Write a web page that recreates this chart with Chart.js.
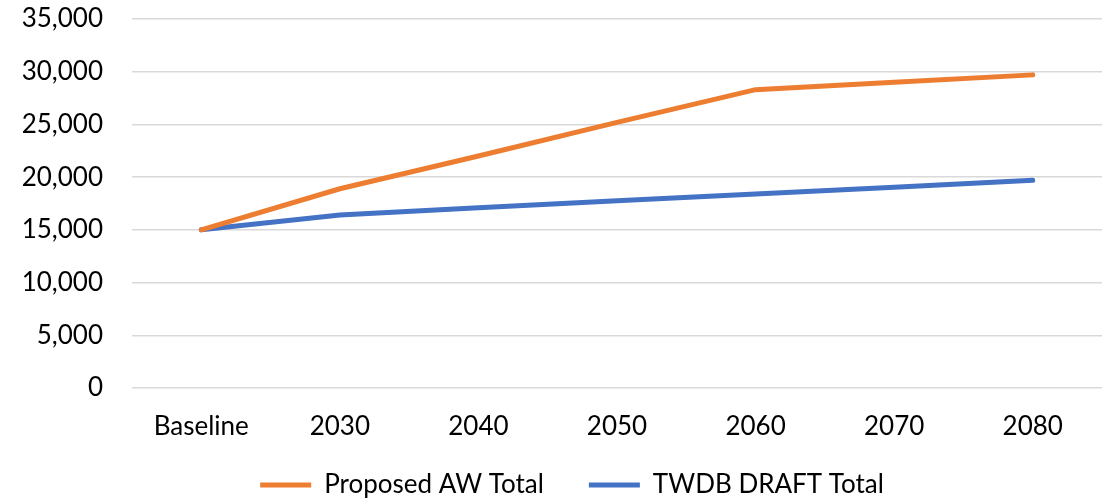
<!DOCTYPE html>
<html>
<head>
<meta charset="utf-8">
<script src="https://cdn.jsdelivr.net/npm/chart.js@4"></script>
<style>
  html, body { margin: 0; padding: 0; background: #fff; }
  #wrap { width: 1102px; height: 500px; }
</style>
</head>
<body>
<div id="wrap"><canvas id="chart"></canvas></div>
<script>
// data
const categories = ["Baseline", "2030", "2040", "2050", "2060", "2070", "2080"];
const proposedAW = [15000, 18900, 22000, 25200, 28300, 29000, 29700];
const twdbDraft = [15000, 16400, 17100, 17750, 18400, 19050, 19700];
const yTicks = [0, 5000, 10000, 15000, 20000, 25000, 30000, 35000];

const font = { family: "Lato", size: 26 };

// legend in the original sits a bit right of center and close under the labels
const legendShift = {
  id: "legendShift",
  afterLayout(chart) {
    chart.legend.left += 21;
    chart.legend.right += 21;
    chart.legend.top -= 16;
    chart.legend.bottom -= 16;
  },
};

const ctx = document.getElementById("chart").getContext("2d");

new Chart(ctx, {
  type: "line",
  data: {
    labels: categories,
    datasets: [
      {
        label: "Proposed AW Total",
        data: proposedAW,
        borderColor: "#ED7D31",
        backgroundColor: "#ED7D31",
        borderWidth: 5,
        borderCapStyle: "round",
        tension: 0,
        pointRadius: 0,
      },
      {
        label: "TWDB DRAFT Total",
        data: twdbDraft,
        borderColor: "#4472C4",
        backgroundColor: "#4472C4",
        borderWidth: 5,
        borderCapStyle: "round",
        tension: 0,
        pointRadius: 0,
      },
    ],
  },
  plugins: [legendShift],
  options: {
    responsive: true,
    maintainAspectRatio: false,
    animation: false,
    layout: { padding: { top: 0, right: 0, left: 0, bottom: -24 } },
    scales: {
      x: {
        offset: true,
        grid: { display: false, drawTicks: false },
        border: { display: false },
        ticks: { color: "#000", font, padding: 23 },
        afterFit: (axis) => {
          // chart.js pads below the labels too, drop that
          axis.height = 55;
        },
      },
      y: {
        min: 0,
        max: 35000,
        afterBuildTicks: (axis) => {
          axis.ticks = yTicks.map((v) => ({ value: v }));
        },
        afterFit: (axis) => {
          axis.paddingTop = 19;
          axis.paddingBottom = 0;
          axis.width = 132;
        },
        grid: { color: "#D9D9D9", lineWidth: 1.5, drawTicks: false },
        border: { display: false },
        ticks: {
          color: "#000",
          font,
          padding: 29,
          callback: (value) => Number(value).toLocaleString("en-US"),
        },
      },
    },
    plugins: {
      legend: {
        position: "bottom",
        labels: {
          color: "#000",
          font,
          usePointStyle: true,
          pointStyle: "line",
          pointStyleWidth: 51,
          boxHeight: 5,
          padding: 45,
        },
      },
      tooltip: { enabled: false },
    },
  },
});
</script>
</body>
</html>
